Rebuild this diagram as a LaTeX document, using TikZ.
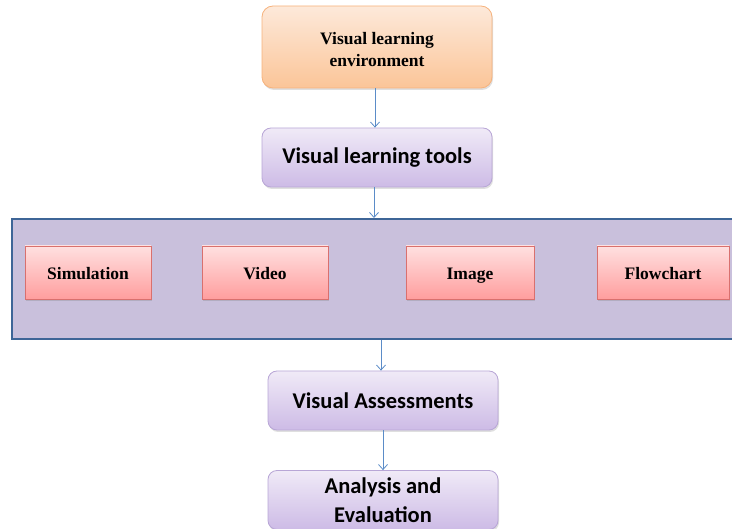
\documentclass[tikz,border=0pt]{standalone}
\usepackage{fontspec}
\setmainfont{Liberation Serif}
\newfontfamily\calib{Carlito}
\usetikzlibrary{shadows,arrows.meta}
\definecolor{arrowc}{HTML}{5B8CC8}
\definecolor{ortop}{HTML}{FDE9DA}
\definecolor{orbot}{HTML}{FBC598}
\definecolor{orline}{HTML}{F6B27C}
\definecolor{putop}{HTML}{F0EAF7}
\definecolor{pubot}{HTML}{CDBBE6}
\definecolor{puline}{HTML}{B8A6D6}
\definecolor{pktop}{HTML}{FFE0E0}
\definecolor{pkbot}{HTML}{FF9E9E}
\definecolor{pkline}{HTML}{D9706E}
\definecolor{bigfill}{HTML}{C9C0DC}
\definecolor{bigline}{HTML}{3E6597}
\tikzset{
  arr/.style={draw=arrowc, line width=0.9pt, -{Straight Barb[length=5pt,width=9pt,line width=0.8pt]}},
  orbox/.style={rectangle, rounded corners=11pt, draw=orline, line width=0.8pt,
    top color=ortop, bottom color=orbot, align=center,
    drop shadow={opacity=0.25, shadow xshift=1pt, shadow yshift=-2pt},
    font=\fontsize{17.5}{22}\selectfont\bfseries},
  pubox/.style={rectangle, rounded corners=9pt, draw=puline, line width=0.8pt,
    top color=putop, bottom color=pubot, align=center,
    minimum width=230pt, minimum height=59pt,
    drop shadow={opacity=0.25, shadow xshift=1pt, shadow yshift=-2pt},
    font=\calib\fontsize{22.5}{29}\selectfont\bfseries},
  pkbox/.style={rectangle, draw=pkline, line width=0.8pt,
    top color=pktop, bottom color=pkbot, align=center,
    minimum height=53pt, text height=15pt, text depth=1pt,
    drop shadow={opacity=0.3, shadow xshift=1pt, shadow yshift=-2pt},
    font=\fontsize{17.5}{20}\selectfont\bfseries},
  bigbox/.style={rectangle, draw=bigline, line width=2pt, fill=bigfill}
}
\begin{document}
\begin{tikzpicture}[x=1pt,y=-1pt]
\useasboundingbox (0,0) rectangle (732,529);
\clip (0,0) rectangle (732,529);
\node[orbox, minimum width=230pt, minimum height=82pt] (env) at (377,47) {};
\node[font=\fontsize{17.5}{22}\selectfont\bfseries, align=center] (envtext) at (377,49.5) {Visual learning\\environment};
\node[pubox] (tools) at (377,157.5) {Visual learning tools};
\node[bigbox, minimum width=740pt, minimum height=120pt] (big) at (382,279) {};
\node[pkbox, minimum width=126pt] (sim) at (88,272.5) {Simulation};
\node[pkbox, minimum width=126pt] (vid) at (265,272.5) {Video};
\node[pkbox, minimum width=128pt] (img) at (470,272.5) {Image};
\node[pkbox, minimum width=132pt] (flow) at (663,272.5) {Flowchart};
\node[pubox] (assess) at (383,400.5) {Visual Assessments};
\node[pubox] (anal) at (383,500) {Analysis and\\Evaluation};
\draw[arr] (env.south -| 375,0) -- (tools.north -| 375,0);
\draw[arr] (tools.south -| 374,0) -- (big.north -| 374,0);
\draw[arr] (big.south -| 381,0) -- (assess.north -| 381,0);
\draw[arr] (assess) -- (anal);
\end{tikzpicture}
\end{document}
